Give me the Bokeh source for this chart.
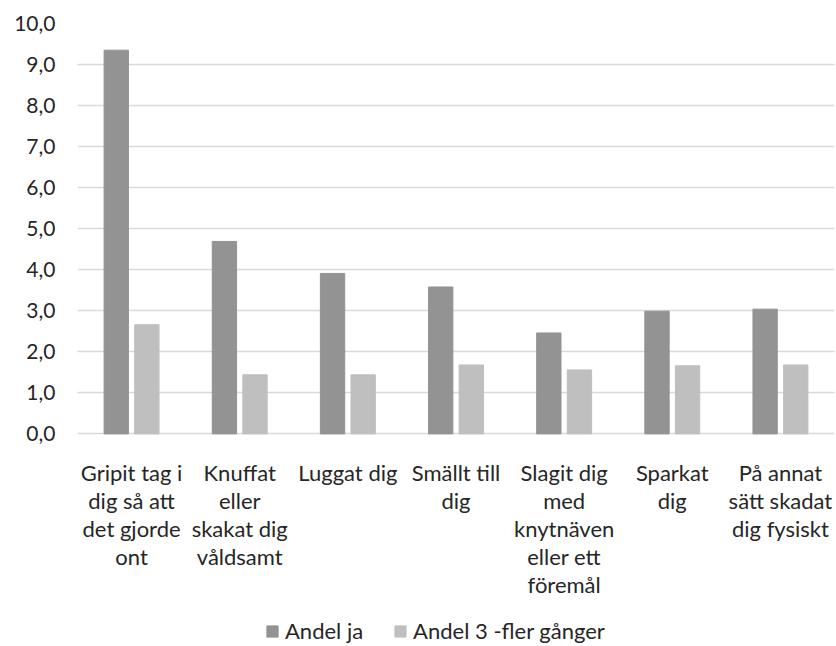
from bokeh.plotting import figure
from bokeh.models import ColumnDataSource, FactorRange, Range1d, FixedTicker, Legend, LegendItem
from bokeh.core.properties import value
from bokeh.transform import dodge
from bokeh.embed import file_html
from bokeh.resources import INLINE

categories = [
    "Gripit tag i\ndig så att\ndet gjorde\nont",
    "Knuffat\neller\nskakat dig\nvåldsamt",
    "Luggat dig",
    "Smällt till\ndig",
    "Slagit dig\nmed\nknytnäven\neller ett\nföremål",
    "Sparkat\ndig",
    "På annat\nsätt skadat\ndig fysiskt",
]
andel_ja = [9.35, 4.69, 3.91, 3.58, 2.46, 2.99, 3.04]
andel_3_fler = [2.66, 1.44, 1.44, 1.68, 1.56, 1.66, 1.68]
series_names = ["Andel ja", "Andel 3 -fler gånger"]
y_ticks = [0, 1, 2, 3, 4, 5, 6, 7, 8, 9, 10]
y_tick_labels = ["0,0", "1,0", "2,0", "3,0", "4,0", "5,0", "6,0", "7,0", "8,0", "9,0", "10,0"]

FONT = "Lato"
TXT = "#262626"
DARK = "#939393"
LIGHT = "#bfbfbf"
GRID = "#d9d9d9"
Y_BOTTOM = -5.18      # room under the value axis for category labels and legend
LABEL_FIRST = 39      # px from zero line to first label baseline
LABEL_PITCH = 28      # px between label lines

src = ColumnDataSource(dict(cat=categories, ja=andel_ja, fler=andel_3_fler))

# one row per line of each wrapped category label
lab_cat, lab_txt, lab_off, lab_zero = [], [], [], []
for c in categories:
    for i, line in enumerate(c.split("\n")):
        lab_cat.append(c)
        lab_txt.append(line)
        lab_off.append(LABEL_FIRST + i * LABEL_PITCH)
        lab_zero.append(0)
lab_src = ColumnDataSource(dict(cat=lab_cat, txt=lab_txt, off=lab_off, zero=lab_zero))

p = figure(
    x_range=FactorRange(*categories, range_padding=0),
    y_range=Range1d(Y_BOTTOM, 10),
    width=836, height=646,
    output_backend="svg", toolbar_location=None,
    min_border_left=77, min_border_right=2, min_border_top=23, min_border_bottom=0,
    outline_line_color=None,
)

r1 = p.vbar(x=dodge("cat", -0.1415, range=p.x_range), top="ja", bottom=0, width=0.225,
            source=src, fill_color=DARK, line_color=DARK)
r2 = p.vbar(x=dodge("cat", 0.1415, range=p.x_range), top="fler", bottom=0, width=0.225,
            source=src, fill_color=LIGHT, line_color=LIGHT)

p.text(x="cat", y="zero", text="txt", y_offset="off", source=lab_src,
       text_font=value(FONT), text_font_size="22px", text_color=TXT,
       text_align="center", text_baseline="alphabetic")

p.xaxis.visible = False
p.xgrid.grid_line_color = None
p.ygrid.ticker = FixedTicker(ticks=y_ticks)
p.ygrid.grid_line_color = GRID
p.ygrid.grid_line_width = 1.3

p.yaxis.ticker = FixedTicker(ticks=y_ticks)
p.yaxis.major_label_overrides = {t: l for t, l in zip(y_ticks, y_tick_labels)}
p.yaxis.axis_line_color = None
p.yaxis.major_tick_line_color = None
p.yaxis.minor_tick_line_color = None
p.yaxis.major_tick_out = 0
p.yaxis.major_label_standoff = 22
p.yaxis.major_label_text_font = FONT
p.yaxis.major_label_text_font_size = "21px"
p.yaxis.major_label_text_color = TXT

legend = Legend(
    items=[LegendItem(label=series_names[0], renderers=[r1]),
           LegendItem(label=series_names[1], renderers=[r2])],
    orientation="horizontal", location=(188, 2),
    label_text_font=FONT, label_text_font_size="22px", label_text_color=TXT,
    glyph_width=14, glyph_height=14, label_height=20, spacing=30, label_standoff=6,
    padding=0, margin=0,
    border_line_color=None, background_fill_alpha=0,
)
p.add_layout(legend, "center")

open("out.html", "w").write(file_html(p, INLINE))
